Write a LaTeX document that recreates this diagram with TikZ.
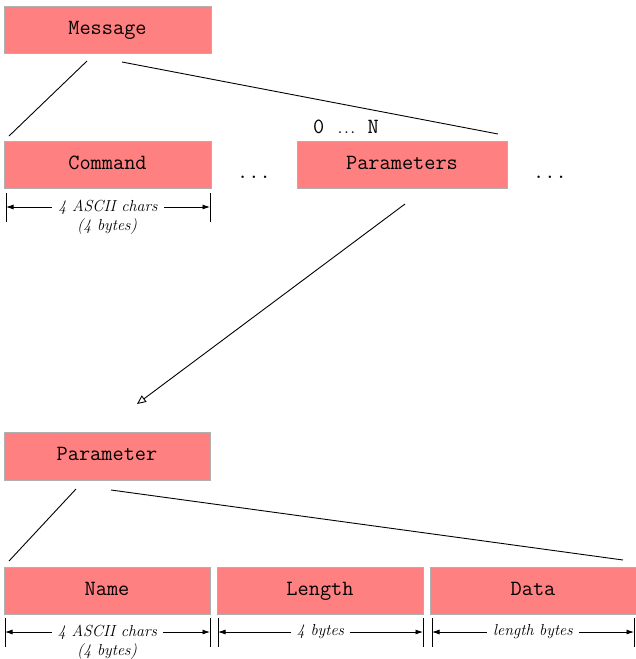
\documentclass[tikz,border=0pt]{standalone}
\usepackage{fontspec}
\usetikzlibrary{arrows.meta}
\definecolor{boxred}{HTML}{FF8080}
\definecolor{boxedge}{HTML}{B0B0B0}
\tikzset{
  x=1pt, y=-1pt,
  field/.style={rectangle, fill=boxred, draw=boxedge, line width=0.6pt,
    minimum height=47pt, inner sep=0pt, text height=13pt, text depth=4pt,
    font=\fontsize{21.7}{24}\selectfont\ttfamily},
  link/.style={line width=0.9pt},
  bar/.style={line width=1pt},
  span/.style={line width=0.8pt, {Latex[length=7.5pt,width=5pt]}-{Latex[length=7.5pt,width=5pt]}},
  spanlabel/.style={fill=white, inner sep=6pt, font=\fontsize{16}{18}\selectfont\itshape},
  sublabel/.style={font=\fontsize{16}{18}\selectfont\itshape},
  gapdots/.style={font=\fontsize{21.7}{24}\selectfont\ttfamily},
}
\begin{document}
\begin{tikzpicture}
\useasboundingbox (0,0) rectangle (636,659);

% top level: the message and its fields
\node[field, minimum width=207pt] (msg) at (107.5,29.5) {Message};
\node[field, minimum width=207pt] (cmd) at (107.5,164.5) {Command};
\node[field, minimum width=210pt] (params) at (402,164.5) {Parameters};
\node[gapdots] (dotsA) at (254,177) {...};
\node[gapdots] (dotsB) at (550,177) {...};
\node[font=\fontsize{21.7}{24}\selectfont] (count) at (346,127)
  {\texttt{0}\hspace{13pt}.\kern1pt.\kern1pt.\hspace{12pt}\texttt{N}};

\coordinate (m1) at (87,61);
\coordinate (m2) at (122,62);
\coordinate (c1) at (9,136);
\coordinate (p1) at (498,134);
\draw[link] (m1) -- (c1);
\draw[link] (m2) -- (p1);

% command width
\coordinate (cb1t) at (6,193); \coordinate (cb1b) at (6,222);
\coordinate (cb2t) at (210,193); \coordinate (cb2b) at (210,222);
\draw[bar] (cb1t) -- (cb1b);
\draw[bar] (cb2t) -- (cb2b);
\coordinate (cs1) at (6,207); \coordinate (cs2) at (210,207);
\draw[span] (cs1) -- (cs2) node[midway, spanlabel] (cmdw) {4 ASCII chars};
\node[sublabel] (cmdb) at (107,227) {(4 bytes)};

% expansion of one parameter
\coordinate (e1) at (405,204);
\coordinate (e2) at (137,404);
\draw[link, -{Triangle[open,length=9pt,width=8pt]}] (e1) -- (e2);

\node[field, minimum width=206pt, minimum height=48pt] (par) at (107,456) {Parameter};
\node[field, minimum width=206pt] (name) at (107,590.5) {Name};
\node[field, minimum width=206pt] (len) at (320,590.5) {Length};
\node[field, minimum width=206pt] (data) at (533,590.5) {Data};

\coordinate (q1) at (76,489);
\coordinate (q2) at (111,490);
\coordinate (n1) at (9,561);
\coordinate (d1) at (623,560);
\draw[link] (q1) -- (n1);
\draw[link] (q2) -- (d1);

% field widths
\foreach \xa/\xb in {5/210, 218/423, 432/634}{
  \draw[bar] (\xa,618) -- (\xa,647);
  \draw[bar] (\xb,618) -- (\xb,647);
}
\coordinate (ns1) at (5,632); \coordinate (ns2) at (210,632);
\coordinate (ls1) at (218,632); \coordinate (ls2) at (423,632);
\coordinate (ds1) at (432,632); \coordinate (ds2) at (634,632);
\draw[span] (ns1) -- (ns2) node[midway, spanlabel] (namew) {4 ASCII chars};
\node[sublabel] (nameb) at (107,651) {(4 bytes)};
\draw[span] (ls1) -- (ls2) node[midway, spanlabel] (lenw) {4 bytes};
\draw[span] (ds1) -- (ds2) node[midway, spanlabel] (dataw) {length bytes};
\end{tikzpicture}
\end{document}
